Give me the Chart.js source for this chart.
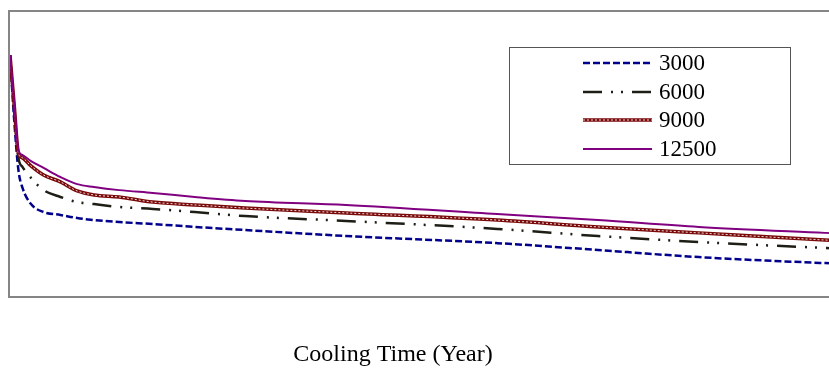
<!DOCTYPE html>
<html>
<head>
<meta charset="utf-8">
<script src="https://cdn.jsdelivr.net/npm/chart.js@4/dist/chart.umd.min.js"></script>
<style>
  html, body { margin: 0; padding: 0; background: #fff; }
  #wrap { width: 829px; height: 370px; overflow: hidden; }
</style>
</head>
<body>
<div id="wrap"><canvas id="c" width="850" height="370"></canvas></div>
<script>
/* ====== DATA ====== */
const years = [0, 0.5, 1, 1.5, 2.5, 4, 6, 8, 10, 13, 17, 22, 28, 40, 58, 70, 82, 97, 100];
const s3000  = [84.9, 62.1, 44.6, 38.2, 32.6, 29.8, 28.8, 27.7, 27.0, 26.3, 25.6, 24.6, 23.5, 21.4, 18.9, 16.5, 14.0, 11.9, 11.6];
const s6000  = [84.9, 65.6, 48.8, 45.6, 41.8, 37.5, 35.1, 33.3, 32.6, 31.6, 30.9, 29.8, 28.4, 26.7, 23.9, 21.4, 19.3, 17.2, 16.8];
const s9000  = [84.9, 67.4, 50.5, 48.8, 46.0, 42.8, 40.4, 37.2, 35.8, 35.1, 33.3, 32.3, 31.2, 29.5, 27.0, 24.6, 22.5, 20.0, 19.6];
const s12500 = [84.9, 68.1, 51.6, 49.8, 47.7, 45.3, 42.1, 39.6, 38.6, 37.5, 36.5, 35.1, 33.7, 32.3, 29.1, 27.0, 24.6, 22.5, 22.1];
const seriesNames = ["3000", "6000", "9000", "12500"];
const xTitle = "Cooling Time (Year)";

const pts = arr => arr.map((v, i) => ({ x: years[i], y: v }));

/* ====== STYLES ====== */
const styles = [
  { color: "#00008c", width: 2.5, dash: [7, 3] },
  { color: "#1e1e16", width: 2.5, dash: [19, 9, 2, 8, 2, 9] },
  { color: "#7a0a0a", width: 3.5, dash: [] },
  { color: "#800080", width: 2, dash: [] }
];
const FONT = "'Liberation Serif', 'Times New Roman', serif";

/* ====== PLUGINS ====== */
const frame = {
  id: "frame",
  beforeDatasetsDraw(chart) {
    const { ctx, chartArea: a } = chart;
    ctx.save();
    ctx.strokeStyle = "#858585";
    ctx.lineWidth = 2;
    ctx.strokeRect(a.left - 1, a.top - 1, a.right - a.left + 40, a.bottom - a.top + 1);
    ctx.restore();
  }
};

const legendBox = {
  id: "legendBox",
  afterDraw(chart) {
    const { ctx } = chart;
    ctx.save();
    ctx.fillStyle = "#fff";
    ctx.fillRect(510, 48, 280, 116);
    ctx.strokeStyle = "#555";
    ctx.lineWidth = 1;
    ctx.strokeRect(509.5, 47.5, 281, 117);
    const rows = [63, 92, 120, 149];
    seriesNames.forEach((name, i) => {
      const st = styles[i];
      ctx.beginPath();
      ctx.strokeStyle = st.color;
      ctx.lineWidth = st.width;
      ctx.setLineDash(st.dash);
      ctx.moveTo(583, rows[i]);
      ctx.lineTo(652, rows[i]);
      ctx.stroke();
      if (i === 2) {
        ctx.beginPath();
        ctx.strokeStyle = "rgba(255,255,255,0.85)";
        ctx.lineWidth = 1;
        ctx.setLineDash([2, 2]);
        ctx.moveTo(583, rows[i]);
        ctx.lineTo(652, rows[i]);
        ctx.stroke();
      }
      ctx.setLineDash([]);
      ctx.fillStyle = "#000";
      ctx.font = "23px " + FONT;
      ctx.textBaseline = "middle";
      ctx.fillText(name, 659, rows[i] + 1);
    });
    ctx.font = "24px " + FONT;
    ctx.textAlign = "center";
    ctx.textBaseline = "middle";
    ctx.fillText(xTitle, 393, 355);
    ctx.restore();
  }
};

/* ====== CHART ====== */
const mk = (data, st, order, extra) => Object.assign({
  data: pts(data),
  borderColor: st.color,
  borderWidth: st.width,
  borderDash: st.dash,
  pointRadius: 0,
  fill: false,
  cubicInterpolationMode: "monotone",
  order
}, extra || {});

new Chart(document.getElementById("c"), {
  type: "line",
  data: {
    datasets: [
      mk(s3000, styles[0], 4),
      mk(s6000, styles[1], 3),
      mk(s9000, styles[2], 2),
      mk(s9000, { color: "rgba(255,255,255,0.85)", width: 1, dash: [2, 2] }, 1),
      mk(s12500, styles[3], 0)
    ]
  },
  options: {
    responsive: false,
    animation: false,
    layout: { padding: { left: 10, top: 12, right: 0, bottom: 73 } },
    plugins: { legend: { display: false }, tooltip: { enabled: false } },
    scales: {
      x: { type: "linear", min: 0, max: 100, display: false },
      y: { min: 0, max: 100, display: false }
    }
  },
  plugins: [frame, legendBox]
});
</script>
</body>
</html>
